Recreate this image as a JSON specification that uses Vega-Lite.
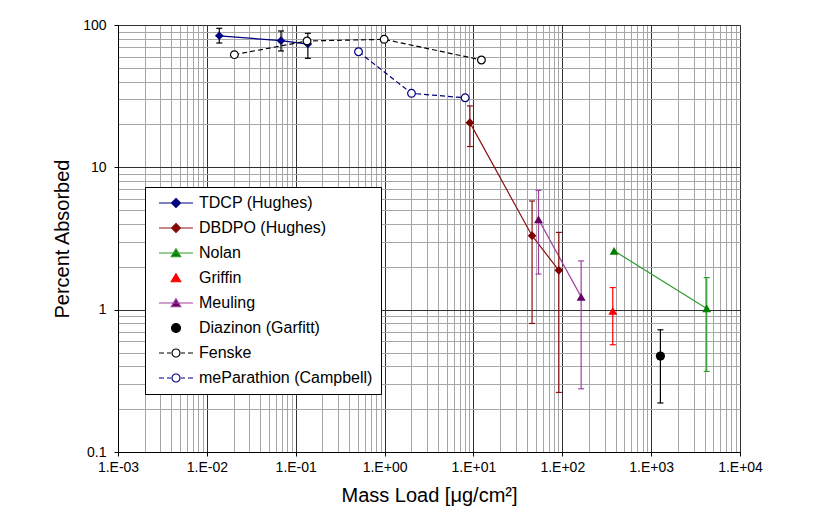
{
  "$schema": "https://vega.github.io/schema/vega-lite/v6.json",
  "width": 622,
  "height": 427,
  "autosize": {"type": "none"},
  "padding": {"left": 118, "top": 25, "right": 81, "bottom": 77},
  "background": "white",
  "config": {
    "font": "Liberation Sans",
    "view": {"stroke": "#808080", "strokeWidth": 1},
    "axis": {
      "labelFont": "Liberation Sans",
      "titleFont": "Liberation Sans",
      "labelColor": "black",
      "titleColor": "black",
      "titleFontWeight": "normal",
      "domainColor": "black",
      "labelFontSize": 14,
      "titleFontSize": 20
    }
  },
  "data": {
    "values": [
      {"series": "TDCP (Hughes)", "x": 0.0138, "y": 84, "lo": 74.7, "hi": 94.8},
      {"series": "TDCP (Hughes)", "x": 0.0683, "y": 77.6, "lo": 65.7, "hi": 90.8},
      {"series": "TDCP (Hughes)", "x": 0.137, "y": 73.5, "lo": 58.3, "hi": 87.4},
      {"series": "DBDPO (Hughes)", "x": 9.12, "y": 20.6, "lo": 14.0, "hi": 27.0},
      {"series": "DBDPO (Hughes)", "x": 45.7, "y": 3.31, "lo": 0.80, "hi": 5.80},
      {"series": "DBDPO (Hughes)", "x": 91.4, "y": 1.89, "lo": 0.262, "hi": 3.49},
      {"series": "Nolan", "x": 383, "y": 2.59, "lo": null, "hi": null},
      {"series": "Nolan", "x": 4220, "y": 1.02, "lo": 0.368, "hi": 1.68},
      {"series": "Griffin", "x": 370, "y": 0.98, "lo": 0.567, "hi": 1.43},
      {"series": "Meuling", "x": 54.0, "y": 4.31, "lo": 1.78, "hi": 6.89},
      {"series": "Meuling", "x": 163, "y": 1.23, "lo": 0.278, "hi": 2.20},
      {"series": "Diazinon (Garfitt)", "x": 1271, "y": 0.472, "lo": 0.221, "hi": 0.722},
      {"series": "Fenske", "x": 0.0204, "y": 61.9, "lo": null, "hi": null},
      {"series": "Fenske", "x": 0.134, "y": 77.2, "lo": null, "hi": null},
      {"series": "Fenske", "x": 0.99, "y": 79.3, "lo": null, "hi": null},
      {"series": "Fenske", "x": 12.3, "y": 56.8, "lo": null, "hi": null},
      {"series": "meParathion (Campbell)", "x": 0.509, "y": 64.9, "lo": null, "hi": null},
      {"series": "meParathion (Campbell)", "x": 2.01, "y": 33.1, "lo": null, "hi": null},
      {"series": "meParathion (Campbell)", "x": 8.07, "y": 30.8, "lo": null, "hi": null}
    ]
  },
  "encoding": {
    "x": {
      "field": "x",
      "type": "quantitative",
      "title": "Mass Load [μg/cm²]",
      "scale": {"type": "log", "domain": [0.001, 10000]},
      "axis": {
        "values": [0.001,0.002,0.003,0.004,0.005,0.006,0.007,0.008,0.009,0.01,0.02,0.03,0.04,0.05,0.06,0.07,0.08,0.09,0.1,0.2,0.3,0.4,0.5,0.6,0.7,0.8,0.9,1,2,3,4,5,6,7,8,9,10,20,30,40,50,60,70,80,90,100,200,300,400,500,600,700,800,900,1000,2000,3000,4000,5000,6000,7000,8000,9000,10000],
        "labelExpr": "abs(log(datum.value)/LN10 - round(log(datum.value)/LN10)) < 0.001 ? ('1.E' + (round(log(datum.value)/LN10) < 0 ? '-' : '+') + '0' + abs(round(log(datum.value)/LN10))) : ''",
        "grid": true,
        "gridColor": {"condition": {"test": "abs(log(datum.value)/LN10 - round(log(datum.value)/LN10)) < 0.001", "value": "#303030"}, "value": "#a6a6a6"},
        "tickColor": {"condition": {"test": "abs(log(datum.value)/LN10 - round(log(datum.value)/LN10)) < 0.001", "value": "black"}, "value": "transparent"},
        "tickSize": 4,
        "labelPadding": 4,
        "labelOverlap": false,
        "labelFlush": false,
        "labelBound": false,
        "titlePadding": 11
      }
    },
    "y": {
      "field": "y",
      "type": "quantitative",
      "title": "Percent Absorbed",
      "scale": {"type": "log", "domain": [0.1, 100]},
      "axis": {
        "values": [0.1,0.2,0.3,0.4,0.5,0.6,0.7,0.8,0.9,1,2,3,4,5,6,7,8,9,10,20,30,40,50,60,70,80,90,100],
        "labelExpr": "abs(log(datum.value)/LN10 - round(log(datum.value)/LN10)) < 0.001 ? format(datum.value, '~g') : ''",
        "grid": true,
        "gridColor": {"condition": {"test": "abs(log(datum.value)/LN10 - round(log(datum.value)/LN10)) < 0.001", "value": "#303030"}, "value": "#a6a6a6"},
        "tickColor": {"condition": {"test": "abs(log(datum.value)/LN10 - round(log(datum.value)/LN10)) < 0.001", "value": "black"}, "value": "transparent"},
        "tickSize": 4,
        "labelPadding": 8,
        "labelOverlap": false,
        "labelFlush": false,
        "labelBound": false,
        "titlePadding": 10
      }
    }
  },
  "layer": [
    {
      "transform": [{"filter": "false"}],
      "mark": {"type": "point", "opacity": 1},
      "encoding": {
        "fill": {
          "field": "series", "type": "nominal",
          "scale": {"domain": ["TDCP (Hughes)","DBDPO (Hughes)","Nolan","Griffin","Meuling","Diazinon (Garfitt)","Fenske","meParathion (Campbell)"], "range": ["#000080","#800000","#008000","#FF0000","#660066","#000000","#FFFFFF","#FFFFFF"]},
          "legend": {"title": null, "orient": "none", "legendX": 27, "legendY": 162, "padding": 8, "strokeColor": "black", "fillColor": "white", "labelFont": "Liberation Sans", "labelFontSize": 16, "labelColor": "black", "symbolSize": 100, "symbolStrokeWidth": 1.2, "symbolOffset": 15, "labelOffset": 15, "rowPadding": 9, "symbolOpacity": 1, "labelLimit": 300, "cornerRadius": 0}
        },
        "stroke": {
          "field": "series", "type": "nominal",
          "scale": {"domain": ["TDCP (Hughes)","DBDPO (Hughes)","Nolan","Griffin","Meuling","Diazinon (Garfitt)","Fenske","meParathion (Campbell)"], "range": ["#000080","#8B1010","#2E9E2E","#FF0000","#A040A0","#000000","#000000","#000080"]},
          "legend": {"title": null, "orient": "none", "legendX": 27, "legendY": 162, "padding": 8, "strokeColor": "black", "fillColor": "white", "labelFont": "Liberation Sans", "labelFontSize": 16, "labelColor": "black", "symbolSize": 100, "symbolStrokeWidth": 1.2, "symbolOffset": 15, "labelOffset": 15, "rowPadding": 9, "symbolOpacity": 1, "labelLimit": 300, "cornerRadius": 0}
        },
        "shape": {
          "field": "series", "type": "nominal",
          "scale": {"domain": ["TDCP (Hughes)","DBDPO (Hughes)","Nolan","Griffin","Meuling","Diazinon (Garfitt)","Fenske","meParathion (Campbell)"], "range": [
            "M-3.4,0H3.4M0,-0.9L0.9,0L0,0.9L-0.9,0Z",
            "M-3.4,0H3.4M0,-0.9L0.9,0L0,0.9L-0.9,0Z",
            "M-3.4,0H3.4M0,-0.85L0.95,0.75L-0.95,0.75Z",
            "M0,-0.85L0.95,0.75L-0.95,0.75Z",
            "M-3.4,0H3.4M0,-0.85L0.95,0.75L-0.95,0.75Z",
            "M0.9,0A0.9,0.9,0,1,1,-0.9,0A0.9,0.9,0,1,1,0.9,0Z",
            "M-3.4,0H-2.4M-1.8,0H-1M1,0H1.8M2.4,0H3.4M0.8,0A0.8,0.8,0,1,1,-0.8,0A0.8,0.8,0,1,1,0.8,0Z",
            "M-3.4,0H-2.4M-1.8,0H-1M1,0H1.8M2.4,0H3.4M0.8,0A0.8,0.8,0,1,1,-0.8,0A0.8,0.8,0,1,1,0.8,0Z"
          ]},
          "legend": {"title": null, "orient": "none", "legendX": 27, "legendY": 162, "padding": 8, "strokeColor": "black", "fillColor": "white", "labelFont": "Liberation Sans", "labelFontSize": 16, "labelColor": "black", "symbolSize": 100, "symbolStrokeWidth": 1.2, "symbolOffset": 15, "labelOffset": 15, "rowPadding": 9, "symbolOpacity": 1, "labelLimit": 300, "cornerRadius": 0}
        }
      }
    },
    {
      "transform": [{"filter": {"field": "series", "oneOf": ["TDCP (Hughes)","DBDPO (Hughes)","Nolan","Meuling"]}}],
      "mark": {"type": "line", "strokeWidth": 1.2},
      "encoding": {
        "stroke": {"field": "series", "type": "nominal", "scale": {"domain": ["TDCP (Hughes)","DBDPO (Hughes)","Nolan","Griffin","Meuling","Diazinon (Garfitt)","Fenske","meParathion (Campbell)"], "range": ["#000080","#8B1010","#2E9E2E","#FF0000","#A040A0","#000000","#000000","#000080"]}}
      }
    },
    {
      "transform": [{"filter": {"field": "series", "oneOf": ["Fenske","meParathion (Campbell)"]}}],
      "mark": {"type": "line", "strokeWidth": 1.2, "strokeDash": [5, 3]},
      "encoding": {
        "stroke": {"field": "series", "type": "nominal", "scale": {"domain": ["TDCP (Hughes)","DBDPO (Hughes)","Nolan","Griffin","Meuling","Diazinon (Garfitt)","Fenske","meParathion (Campbell)"], "range": ["#000080","#8B1010","#2E9E2E","#FF0000","#A040A0","#000000","#000000","#000080"]}}
      }
    },
    {
      "transform": [{"filter": "isValid(datum.lo)"}],
      "mark": {"type": "rule", "strokeWidth": 1.2},
      "encoding": {
        "y": {"field": "lo", "type": "quantitative", "title": "Percent Absorbed", "scale": {"type": "log", "domain": [0.1, 100]}},
        "y2": {"field": "hi"},
        "stroke": {"condition": {"test": "datum.series === 'TDCP (Hughes)'", "value": "black"}, "field": "series", "type": "nominal", "scale": {"domain": ["TDCP (Hughes)","DBDPO (Hughes)","Nolan","Griffin","Meuling","Diazinon (Garfitt)","Fenske","meParathion (Campbell)"], "range": ["#000080","#8B1010","#2E9E2E","#FF0000","#A040A0","#000000","#000000","#000080"]}}
      }
    },
    {
      "transform": [{"filter": "isValid(datum.lo)"}],
      "mark": {"type": "rule", "strokeWidth": 1.2, "xOffset": -3, "x2Offset": 3},
      "encoding": {
        "x2": {"field": "x"},
        "y": {"field": "lo", "type": "quantitative", "title": "Percent Absorbed", "scale": {"type": "log", "domain": [0.1, 100]}},
        "stroke": {"condition": {"test": "datum.series === 'TDCP (Hughes)'", "value": "black"}, "field": "series", "type": "nominal", "scale": {"domain": ["TDCP (Hughes)","DBDPO (Hughes)","Nolan","Griffin","Meuling","Diazinon (Garfitt)","Fenske","meParathion (Campbell)"], "range": ["#000080","#8B1010","#2E9E2E","#FF0000","#A040A0","#000000","#000000","#000080"]}}
      }
    },
    {
      "transform": [{"filter": "isValid(datum.hi)"}],
      "mark": {"type": "rule", "strokeWidth": 1.2, "xOffset": -3, "x2Offset": 3},
      "encoding": {
        "x2": {"field": "x"},
        "y": {"field": "hi", "type": "quantitative", "title": "Percent Absorbed", "scale": {"type": "log", "domain": [0.1, 100]}},
        "stroke": {"condition": {"test": "datum.series === 'TDCP (Hughes)'", "value": "black"}, "field": "series", "type": "nominal", "scale": {"domain": ["TDCP (Hughes)","DBDPO (Hughes)","Nolan","Griffin","Meuling","Diazinon (Garfitt)","Fenske","meParathion (Campbell)"], "range": ["#000080","#8B1010","#2E9E2E","#FF0000","#A040A0","#000000","#000000","#000080"]}}
      }
    },
    {
      "transform": [{"filter": {"field": "series", "oneOf": ["TDCP (Hughes)","DBDPO (Hughes)"]}}],
      "mark": {"type": "point", "shape": "diamond", "filled": true, "size": 75, "opacity": 1, "strokeWidth": 0},
      "encoding": {
        "fill": {"field": "series", "type": "nominal", "scale": {"domain": ["TDCP (Hughes)","DBDPO (Hughes)","Nolan","Griffin","Meuling","Diazinon (Garfitt)","Fenske","meParathion (Campbell)"], "range": ["#000080","#800000","#008000","#FF0000","#660066","#000000","#FFFFFF","#FFFFFF"]}}
      }
    },
    {
      "transform": [{"filter": {"field": "series", "oneOf": ["Nolan","Griffin","Meuling"]}}],
      "mark": {"type": "point", "shape": "triangle-up", "filled": true, "size": 80, "opacity": 1, "strokeWidth": 0},
      "encoding": {
        "fill": {"field": "series", "type": "nominal", "scale": {"domain": ["TDCP (Hughes)","DBDPO (Hughes)","Nolan","Griffin","Meuling","Diazinon (Garfitt)","Fenske","meParathion (Campbell)"], "range": ["#000080","#800000","#008000","#FF0000","#660066","#000000","#FFFFFF","#FFFFFF"]}}
      }
    },
    {
      "transform": [{"filter": {"field": "series", "oneOf": ["Diazinon (Garfitt)"]}}],
      "mark": {"type": "point", "shape": "circle", "filled": true, "size": 85, "opacity": 1, "strokeWidth": 0},
      "encoding": {
        "fill": {"field": "series", "type": "nominal", "scale": {"domain": ["TDCP (Hughes)","DBDPO (Hughes)","Nolan","Griffin","Meuling","Diazinon (Garfitt)","Fenske","meParathion (Campbell)"], "range": ["#000080","#800000","#008000","#FF0000","#660066","#000000","#FFFFFF","#FFFFFF"]}}
      }
    },
    {
      "transform": [{"filter": {"field": "series", "oneOf": ["Fenske","meParathion (Campbell)"]}}],
      "mark": {"type": "point", "shape": "circle", "filled": false, "fill": "white", "size": 60, "opacity": 1, "strokeWidth": 1.2},
      "encoding": {
        "stroke": {"field": "series", "type": "nominal", "scale": {"domain": ["TDCP (Hughes)","DBDPO (Hughes)","Nolan","Griffin","Meuling","Diazinon (Garfitt)","Fenske","meParathion (Campbell)"], "range": ["#000080","#8B1010","#2E9E2E","#FF0000","#A040A0","#000000","#000000","#000080"]}}
      }
    }
  ]
}
